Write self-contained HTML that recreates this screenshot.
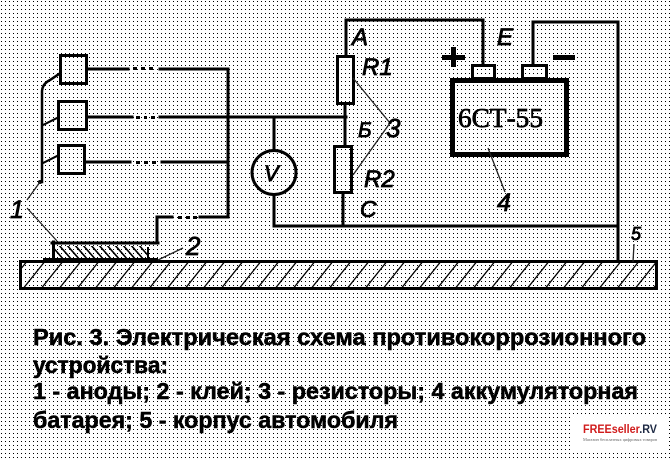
<!DOCTYPE html>
<html><head><meta charset="utf-8">
<style>
html,body{margin:0;padding:0;background:#fff;}
svg{display:block;}
</style></head>
<body>
<svg xmlns="http://www.w3.org/2000/svg" width="672" height="458" viewBox="0 0 672 458">
<defs>
<pattern id="dots" width="4" height="4" patternUnits="userSpaceOnUse">
<rect x="0" y="0" width="4" height="4" fill="#fff"/>
<rect x="1" y="1" width="1" height="1" fill="#000"/>
</pattern>
<clipPath id="bodyclip"><rect x="22" y="263" width="633" height="24"/></clipPath>
<clipPath id="glueclip"><rect x="55" y="246" width="92" height="12"/></clipPath>
</defs>
<rect x="0" y="0" width="672" height="458" fill="url(#dots)" shape-rendering="crispEdges"/>

<g fill="none" stroke="#000" stroke-width="3" stroke-linecap="square">
<!-- anodes -->
<rect x="60.5" y="55.5" width="26" height="28"/>
<rect x="58.5" y="101.5" width="28" height="28"/>
<rect x="58.5" y="145.5" width="26" height="28"/>
<!-- bus -->
<path d="M42,182 L42,92 Q42,84 50,80 L59,74" stroke-width="2.5"/>
<path d="M43,125 L57,118" stroke-width="2"/>
<path d="M43,163 L57,156" stroke-width="2"/>
<!-- anode wires -->
<path d="M88,69 H128 M160,69 H228 V217"/>
<path d="M88,117 H132 M160,117 H346"/>
<path d="M86,162 H130 M162,162 H228"/>
<path d="M228,217 H200 M172,217 H157 V243"/>
<!-- anode plate -->
<path d="M52,243 H158"/>
<path d="M53.5,242 V260"/>
<path d="M148,248 V260" stroke-width="2"/>
<!-- car body -->
<rect x="20.5" y="261.5" width="636" height="27"/>
<!-- resistors -->
<path d="M346,55 V20 H483 V65"/>
<rect x="337.5" y="56.5" width="16" height="47"/>
<path d="M345,105 V145"/>
<rect x="334.5" y="146.5" width="17" height="46"/>
<path d="M343,194 V226"/>
<path d="M274,117 V150 M274,195 V226 H618"/>
<circle cx="274" cy="172.5" r="22"/>
<!-- battery wiring -->
<rect x="472.5" y="65.5" width="22" height="13"/>
<rect x="522.5" y="65.5" width="24" height="13"/>
<path d="M533,65 V22 H618 V261"/>
<rect x="452.5" y="80.5" width="114" height="74" stroke-width="5"/>
</g>

<!-- glue bottom thick line -->
<rect x="43" y="258" width="115" height="4" fill="#000"/>

<!-- dotted gaps -->
<g fill="#000">
<rect x="133" y="67" width="4" height="3"/><rect x="141" y="67" width="4" height="3"/><rect x="149" y="67" width="4" height="3"/>
<rect x="136" y="116" width="4" height="3"/><rect x="144" y="116" width="3" height="3"/><rect x="151" y="116" width="4" height="3"/>
<rect x="136" y="161" width="4" height="3"/><rect x="144" y="161" width="4" height="3"/><rect x="152" y="161" width="4" height="3"/>
<rect x="178" y="216" width="4" height="3"/><rect x="186" y="216" width="4" height="3"/><rect x="193" y="216" width="4" height="3"/>
<circle cx="40" cy="182" r="2"/>
<!-- plus / minus -->
<rect x="442" y="55" width="23" height="5"/>
<rect x="451" y="47" width="5" height="20"/>
<rect x="553" y="55" width="22" height="5"/>
</g>

<!-- hatch car body -->
<g clip-path="url(#bodyclip)" stroke="#000" stroke-width="1.3">
<path d="M4,290 L28,260 M22,290 L46,260 M40,290 L64,260 M58,290 L82,260 M76,290 L100,260 M94,290 L118,260 M112,290 L136,260 M130,290 L154,260 M148,290 L172,260 M166,290 L190,260 M184,290 L208,260 M202,290 L226,260 M220,290 L244,260 M238,290 L262,260 M256,290 L280,260 M274,290 L298,260 M292,290 L316,260 M310,290 L334,260 M328,290 L352,260 M346,290 L370,260 M364,290 L388,260 M382,290 L406,260 M400,290 L424,260 M418,290 L442,260 M436,290 L460,260 M454,290 L478,260 M472,290 L496,260 M490,290 L514,260 M508,290 L532,260 M526,290 L550,260 M544,290 L568,260 M562,290 L586,260 M580,290 L604,260 M598,290 L622,260 M616,290 L640,260 M634,290 L658,260 M652,290 L676,260"/>
</g>
<!-- hatch glue -->
<g clip-path="url(#glueclip)" stroke="#000" stroke-width="1.6">
<path d="M50,244 L64,260 M58,244 L72,260 M66,244 L80,260 M74,244 L88,260 M82,244 L96,260 M90,244 L104,260 M98,244 L112,260 M106,244 L120,260 M114,244 L128,260 M122,244 L136,260 M130,244 L144,260 M138,244 L152,260"/>
</g>

<!-- leaders -->
<g stroke="#222" stroke-width="1.3" fill="none">
<path d="M40,182 L27,200"/>
<path d="M27,208 L57,241"/>
<path d="M158,260 L183,248"/>
<path d="M353,78 L390,123"/>
<path d="M353,175 L390,123"/>
<path d="M488,148 L505,192"/>
<path d="M634,244 L633,262"/>
</g>

<!-- labels -->
<g font-family="'Liberation Sans', sans-serif" font-style="italic" fill="#000" stroke="#000" stroke-width="0.8">
<text x="352" y="45" font-size="24">А</text>
<text x="362" y="75" font-size="24">R1</text>
<text x="358" y="137" font-size="21">Б</text>
<text x="386" y="137" font-size="26">3</text>
<text x="364" y="187" font-size="24">R2</text>
<text x="360" y="217" font-size="23">С</text>
<text x="497" y="211" font-size="25">4</text>
<text x="631" y="240" font-size="18">5</text>
<text x="497" y="45" font-size="24">Е</text>
<text x="10" y="218" font-size="25">1</text>
<text x="186" y="255" font-size="26">2</text>
<text x="264" y="181" font-size="22">V</text>
</g>
<text x="458" y="127" font-family="'Liberation Serif', serif" font-size="27" stroke="#000" stroke-width="0.7" textLength="85" lengthAdjust="spacingAndGlyphs">6СТ-55</text>

<!-- caption -->
<g font-family="'Liberation Sans', 'Noto Sans CJK SC', sans-serif" font-weight="bold" font-size="23" fill="#000" stroke="#000" stroke-width="0.5">
<text x="33" y="345" textLength="613" lengthAdjust="spacingAndGlyphs">Рис. 3. Электрическая схема противокоррозионного</text>
<text x="33" y="373" textLength="135" lengthAdjust="spacingAndGlyphs">устройства:</text>
<text x="33" y="399" textLength="605" lengthAdjust="spacingAndGlyphs">1 - аноды; 2 - клей; 3 - резисторы; 4 аккумуляторная</text>
<text x="33" y="428" textLength="365" lengthAdjust="spacingAndGlyphs">батарея; 5 - корпус автомобиля</text>
</g>

<!-- watermark -->
<rect x="573" y="415" width="95" height="35" fill="#fff"/>
<text x="583" y="433" font-family="'Liberation Sans', sans-serif" font-weight="bold" font-size="12" textLength="74" lengthAdjust="spacingAndGlyphs"><tspan fill="#d01c1c">FREEseller</tspan><tspan fill="#1e2a44">.RV</tspan></text>
<text x="583" y="441" font-family="'Liberation Serif', serif" font-size="4.5" fill="#666" textLength="74" lengthAdjust="spacingAndGlyphs">Магазин бесплатных цифровых товаров</text>
</svg>
</body></html>
